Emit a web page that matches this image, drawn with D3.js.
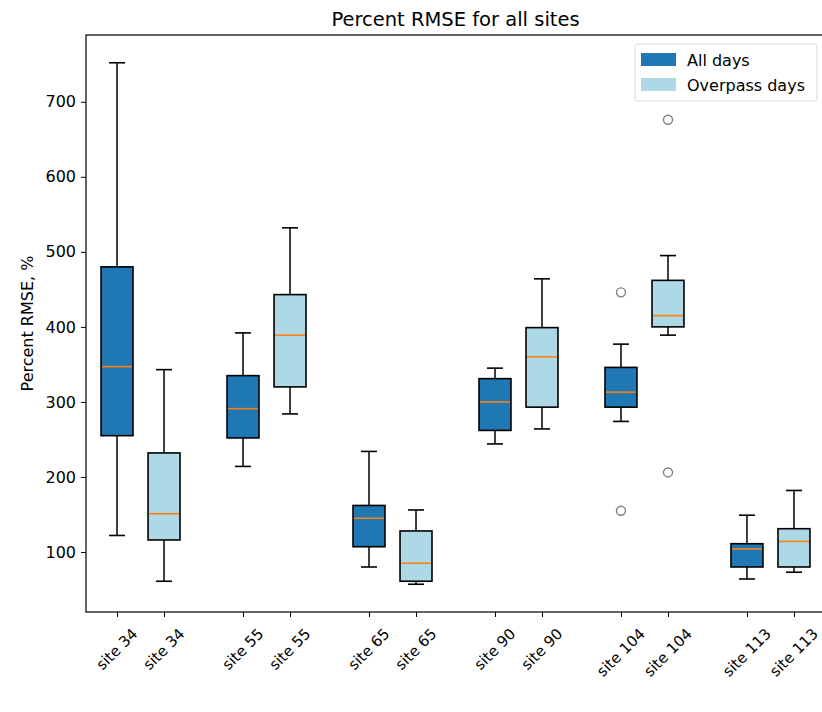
<!DOCTYPE html>
<html lang="en">
<head>
<meta charset="UTF-8">
<title>Percent RMSE for all sites</title>
<script src="https://d3js.org/d3.v7.min.js"></script>
<style>
  body { margin: 0; background: #fff; }
  svg text { font-family: "DejaVu Sans", sans-serif; fill: #000; }
</style>
</head>
<body>
<div id="chart"></div>
<script>
// data
var sites = ["site 34", "site 55", "site 65", "site 90", "site 104", "site 113"];
var seriesNames = ["All days", "Overpass days"];
var yTicks = [100, 200, 300, 400, 500, 600, 700];

// All days
var allLo  = [122, 214,  80, 244, 274,  64];
var allQ1  = [255, 252, 107, 262, 293,  80];
var allMed = [347, 291, 145, 300, 313, 104];
var allQ3  = [480, 335, 162, 331, 346, 111];
var allHi  = [752, 392, 234, 345, 377, 149];
var allOut = [[], [], [], [], [446, 155], []];

// Overpass days
var ovLo  = [ 61, 284,  57, 264, 389,  73];
var ovQ1  = [116, 320,  61, 293, 400,  80];
var ovMed = [151, 389,  85, 360, 415, 114];
var ovQ3  = [232, 443, 128, 399, 462, 131];
var ovHi  = [343, 532, 156, 464, 495, 182];
var ovOut = [[], [], [], [], [676, 206], []];

var colors = ["#1f77b4", "#add8e6"];

var width = 822, height = 712;
var margin = {top: 35, right: -3, bottom: 100, left: 86};
var plotW = width - margin.left - margin.right;
var plotH = height - margin.top - margin.bottom;
var fs = "16px";

// box positions: each site gets a pair, groups spaced 2.68 apart
var groupStep = 2.68;
var boxWidth = 0.68;
function pos(i, s) { return 1 + i * groupStep + s; }

var x = d3.scaleLinear()
  .domain([pos(0, 0) - 0.66, pos(sites.length - 1, 1) + 0.66])
  .range([0, plotW]);
var y = d3.scaleLinear().domain([20, 789]).range([plotH, 0]);

var boxes = [];
sites.forEach(function(site, i) {
  boxes.push({site: site, s: 0, p: pos(i, 0), lo: allLo[i], q1: allQ1[i], med: allMed[i], q3: allQ3[i], hi: allHi[i], out: allOut[i]});
  boxes.push({site: site, s: 1, p: pos(i, 1), lo: ovLo[i], q1: ovQ1[i], med: ovMed[i], q3: ovQ3[i], hi: ovHi[i], out: ovOut[i]});
});

var svg = d3.select("#chart").append("svg")
  .attr("width", width)
  .attr("height", height);

var g = svg.append("g")
  .attr("transform", "translate(" + margin.left + "," + margin.top + ")");

// title
svg.append("text")
  .attr("x", margin.left + plotW / 2)
  .attr("y", 26)
  .attr("text-anchor", "middle")
  .style("font-size", "19.5px")
  .text("Percent RMSE for all sites");

// y label
svg.append("text")
  .attr("transform", "translate(33," + (margin.top + plotH / 2) + ") rotate(-90)")
  .attr("text-anchor", "middle")
  .style("font-size", fs)
  .text("Percent RMSE, %");

// y axis
var yAxis = d3.axisLeft(y).tickValues(yTicks).tickSize(5).tickPadding(5);
var yg = g.append("g").call(yAxis);
yg.select(".domain").remove();
yg.selectAll("text").style("font-size", fs);
yg.selectAll("line").attr("stroke", "#000").attr("stroke-width", 1);

// x axis
var xAxis = d3.axisBottom(x).tickValues(boxes.map(function(d) { return d.p; })).tickSize(5).tickFormat("");
var xg = g.append("g").attr("transform", "translate(0," + plotH + ")").call(xAxis);
xg.select(".domain").remove();
xg.selectAll("line").attr("stroke", "#000").attr("stroke-width", 1);

// rotated tick labels, centered on the tick like matplotlib ha=center
var lbl = g.append("g").selectAll("text")
  .data(boxes)
  .enter().append("text")
  .style("font-size", "15px")
  .attr("text-anchor", "middle")
  .attr("dominant-baseline", "central")
  .text(function(d) { return d.site; });
lbl.attr("transform", function(d) {
  var w = this.getComputedTextLength();
  var h = 15;
  var cy = plotH + 14 + (w + h) / (2 * Math.SQRT2);
  return "translate(" + x(d.p) + "," + cy + ") rotate(-45)";
});

// frame
g.append("rect")
  .attr("width", plotW).attr("height", plotH)
  .attr("fill", "none").attr("stroke", "#000").attr("stroke-width", 1.2);

var bw = x(boxWidth) - x(0);

var bx = g.append("g").selectAll("g")
  .data(boxes)
  .enter().append("g");

// whiskers
bx.append("line")
  .attr("x1", function(d) { return x(d.p); }).attr("x2", function(d) { return x(d.p); })
  .attr("y1", function(d) { return y(d.q3); }).attr("y2", function(d) { return y(d.hi); })
  .attr("stroke", "#000").attr("stroke-width", 1.5);
bx.append("line")
  .attr("x1", function(d) { return x(d.p); }).attr("x2", function(d) { return x(d.p); })
  .attr("y1", function(d) { return y(d.q1); }).attr("y2", function(d) { return y(d.lo); })
  .attr("stroke", "#000").attr("stroke-width", 1.5);

// caps
["hi", "lo"].forEach(function(k) {
  bx.append("line")
    .attr("x1", function(d) { return x(d.p) - bw / 4; }).attr("x2", function(d) { return x(d.p) + bw / 4; })
    .attr("y1", function(d) { return y(d[k]); }).attr("y2", function(d) { return y(d[k]); })
    .attr("stroke", "#000").attr("stroke-width", 1.6);
});

// boxes
bx.append("rect")
  .attr("x", function(d) { return x(d.p) - bw / 2; })
  .attr("width", bw)
  .attr("y", function(d) { return y(d.q3); })
  .attr("height", function(d) { return y(d.q1) - y(d.q3); })
  .attr("fill", function(d) { return colors[d.s]; })
  .attr("stroke", "#000").attr("stroke-width", 1.6);

// medians
bx.append("line")
  .attr("x1", function(d) { return x(d.p) - bw / 2 + 1; }).attr("x2", function(d) { return x(d.p) + bw / 2 - 1; })
  .attr("y1", function(d) { return y(d.med); }).attr("y2", function(d) { return y(d.med); })
  .attr("stroke", "#ff7f0e").attr("stroke-width", 1.6);

// outliers
bx.selectAll("circle")
  .data(function(d) { return d.out.map(function(v) { return {p: d.p, v: v}; }); })
  .enter().append("circle")
  .attr("cx", function(d) { return x(d.p); })
  .attr("cy", function(d) { return y(d.v); })
  .attr("r", 4.5)
  .attr("fill", "none").attr("stroke", "#808080").attr("stroke-width", 1.4);

// legend
var lg = g.append("g").attr("transform", "translate(" + (635 - margin.left) + "," + (44 - margin.top) + ")");
lg.append("rect")
  .attr("width", 182).attr("height", 57).attr("rx", 3)
  .attr("fill", "#fff").attr("fill-opacity", 0.8)
  .attr("stroke", "#d9d9d9").attr("stroke-width", 1);
seriesNames.forEach(function(name, i) {
  lg.append("rect")
    .attr("x", 6).attr("y", 9 + i * 25)
    .attr("width", 35).attr("height", 13)
    .attr("fill", colors[i]);
  lg.append("text")
    .attr("x", 52).attr("y", 16 + i * 25)
    .attr("dominant-baseline", "central")
    .style("font-size", fs)
    .text(name);
});
</script>
</body>
</html>
